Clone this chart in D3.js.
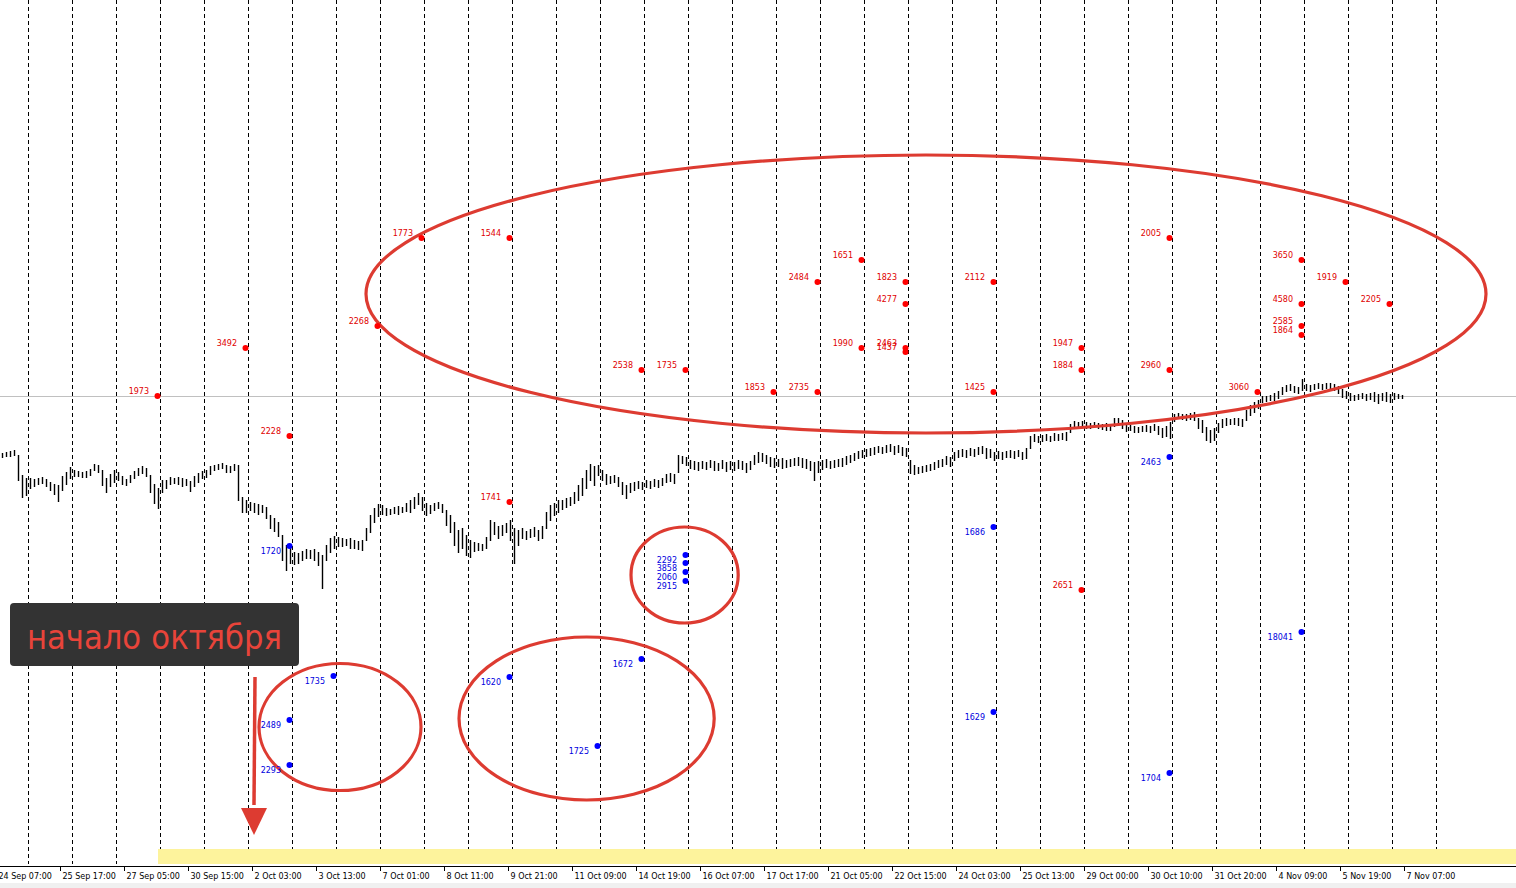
<!DOCTYPE html>
<html>
<head>
<meta charset="utf-8">
<script src="https://cdn.jsdelivr.net/npm/d3@7"></script>
<style>
  body { margin: 0; background: #fff; overflow: hidden; }
  svg { display: block; }
</style>
</head>
<body>
<script>
// price in pips above 1.0000, one entry = 2 hourly bars
var barHigh = [
  1047,1048,1049,1050,1045,1025,1022,1022,1021,1022,
  1023,1021,1018,1016,1015,1024,1028,1033,1030,1029,
  1028,1029,1031,1036,1035,1030,1022,1026,1030,1028,
  1024,1021,1025,1029,1032,1034,1032,1025,1016,1012,
  1020,1020,1023,1022,1023,1022,1021,1019,1024,1027,
  1029,1030,1034,1035,1036,1037,1035,1034,1036,1035,
  1003,1000,998,997,996,995,993,985,982,978,
  965,955,953,948,947,949,951,950,951,948,
  945,955,962,964,963,962,961,962,960,959,
  960,972,985,992,996,995,992,991,993,994,
  993,997,1000,1003,1007,1003,997,995,997,998,
  996,990,985,978,970,972,965,960,958,957,
  956,963,980,978,974,975,977,980,972,970,
  972,969,971,973,970,974,988,995,997,1000,
  1000,1002,1003,1008,1015,1022,1030,1036,1034,1035,
  1030,1026,1024,1025,1023,1018,1015,1017,1018,1019,
  1018,1020,1019,1021,1020,1022,1026,1027,1026,1045,
  1044,1043,1040,1039,1038,1039,1038,1040,1039,1037,
  1040,1038,1039,1038,1040,1039,1037,1039,1045,1048,
  1047,1045,1043,1042,1041,1042,1040,1041,1042,1043,
  1042,1041,1039,1038,1039,1040,1041,1039,1040,1041,
  1042,1044,1045,1047,1049,1050,1051,1052,1053,1054,
  1053,1055,1056,1054,1055,1053,1052,1040,1035,1033,
  1034,1035,1036,1038,1040,1041,1044,1043,1048,1050,
  1051,1050,1052,1051,1053,1054,1052,1051,1048,1049,
  1048,1049,1050,1049,1050,1048,1052,1064,1066,1064,
  1065,1066,1064,1067,1066,1067,1068,1076,1079,1078,
  1079,1078,1077,1078,1077,1076,1077,1076,1082,1082,
  1080,1076,1075,1074,1073,1074,1075,1074,1076,1074,
  1072,1074,1078,1086,1087,1086,1086,1087,1088,1082,
  1080,1073,1070,1072,1077,1081,1082,1081,1082,1082,
  1081,1090,1095,1098,1100,1104,1104,1105,1107,1109,
  1113,1115,1116,1114,1113,1121,1116,1115,1116,1117,
  1116,1117,1117,1116,1114,1111,1109,1107,1105,1106,
  1107,1106,1107,1108,1106,1107,1108,1106,1107,1106,1105
];
var barLow = [
  1043,1044,1044,1045,1020,1003,1005,1012,1014,1016,
  1017,1014,1010,1006,999,1010,1016,1022,1024,1024,
  1023,1023,1025,1030,1028,1015,1008,1014,1018,1020,
  1016,1015,1018,1022,1025,1027,1024,1008,997,992,
  1008,1012,1016,1017,1016,1014,1015,1009,1014,1018,
  1022,1023,1026,1030,1031,1032,1028,1028,1030,1000,
  988,988,990,988,986,988,982,972,969,964,
  940,930,937,936,937,940,942,942,940,935,
  912,940,948,952,954,954,955,952,952,951,
  950,960,968,978,984,986,985,986,987,986,
  988,989,988,992,996,990,985,987,990,992,
  988,975,968,955,948,952,945,943,949,950,
  950,952,960,966,962,965,968,960,937,955,
  962,961,963,964,960,962,972,980,985,988,
  991,993,995,997,1000,1005,1012,1020,1015,1025,
  1020,1016,1017,1018,1014,1006,1002,1008,1010,1012,
  1011,1013,1012,1014,1013,1015,1018,1019,1017,1028,
  1037,1035,1032,1031,1030,1032,1031,1033,1030,1030,
  1032,1029,1031,1030,1032,1031,1028,1031,1036,1038,
  1039,1037,1034,1033,1034,1032,1033,1034,1035,1035,
  1033,1032,1030,1020,1028,1031,1033,1032,1033,1034,
  1034,1036,1038,1040,1042,1043,1044,1045,1046,1048,
  1047,1048,1049,1046,1048,1045,1044,1027,1026,1027,
  1028,1029,1030,1031,1033,1034,1036,1034,1040,1043,
  1044,1043,1045,1044,1046,1047,1042,1043,1040,1042,
  1041,1043,1043,1042,1044,1041,1042,1052,1059,1058,
  1059,1060,1059,1060,1060,1061,1060,1068,1072,1073,
  1073,1072,1072,1073,1072,1071,1070,1070,1074,1075,
  1072,1069,1070,1068,1068,1069,1069,1068,1070,1066,
  1063,1064,1062,1079,1082,1081,1080,1081,1080,1072,
  1068,1060,1058,1060,1068,1073,1075,1076,1076,1075,
  1074,1080,1085,1088,1092,1098,1099,1100,1100,1102,
  1106,1109,1110,1108,1107,1110,1110,1109,1111,1112,
  1111,1112,1111,1110,1107,1103,1102,1100,1100,1101,
  1102,1100,1101,1099,1097,1100,1099,1098,1101,1102,1102
];

var tickLabels = ["24 Sep 07:00", "25 Sep 17:00", "27 Sep 05:00", "30 Sep 15:00", "2 Oct 03:00",
  "3 Oct 13:00", "7 Oct 01:00", "8 Oct 11:00", "9 Oct 21:00", "11 Oct 09:00", "14 Oct 19:00",
  "16 Oct 07:00", "17 Oct 17:00", "21 Oct 05:00", "22 Oct 15:00", "24 Oct 03:00", "25 Oct 13:00",
  "29 Oct 00:00", "30 Oct 10:00", "31 Oct 20:00", "4 Nov 09:00", "5 Nov 19:00", "7 Nov 07:00"];

// volume marks: grid slot, price level (pips), volume
var sellSlot = [3, 5, 6, 8, 9, 11, 11, 14, 15, 17, 18, 18, 19, 19, 20, 20, 20, 20, 22, 22, 24, 24, 24, 26, 26, 28, 29, 29, 29, 29, 30, 31];
var sellLevel = [1104, 1152, 1064, 1174, 1262, 1262, 998, 1130, 1130, 1108, 1108, 1218, 1240, 1152, 1218, 1196, 1152, 1148, 1218, 1108, 1152, 1130, 910, 1262, 1130, 1108, 1240, 1196, 1174, 1165, 1218, 1196];
var sellVol = [1973, 3492, 2228, 2268, 1773, 1544, 1741, 2538, 1735, 1853, 2735, 2484, 1651, 1990, 1823, 4277, 2463, 1437, 2112, 1425, 1947, 1884, 2651, 2005, 2960, 3060, 3650, 4580, 2585, 1864, 1919, 2205];

var buySlot = [6, 6, 6, 7, 11, 13, 14, 15, 15, 15, 15, 22, 26, 22, 26, 29];
var buyLevel = [954, 780, 735, 824, 823, 754, 841, 945, 937, 928, 919, 973, 1043, 788, 727, 868];
var buyVol = [1720, 2489, 2293, 1735, 1620, 1725, 1672, 2292, 3858, 2060, 2915, 1686, 2463, 1629, 1704, 18041];

var bidLevel = 1104;
var highlightFrom = 79; // hour index where the yellow strip starts

var width = 1516,
    height = 888,
    axisY = 866;

var x = d3.scaleLinear().domain([0, 758]).range([0, width]);   // hours
var y = d3.scaleLinear().domain([634, 1500]).range([axisY, 0]); // pips

var slotHour = function(k){ return 14 + 22 * k; };

var svg = d3.select("body").append("svg")
  .attr("width", width)
  .attr("height", height)
  .style("font-family", "'DejaVu Sans', Verdana, sans-serif");

svg.append("rect").attr("y", 883).attr("width", width).attr("height", 5).attr("fill", "#f0f0f0");

// vertical grid
svg.append("g").selectAll("line")
  .data(d3.range(33))
  .enter().append("line")
  .attr("x1", function(k){ return Math.round(x(slotHour(k))) + 0.5; })
  .attr("x2", function(k){ return Math.round(x(slotHour(k))) + 0.5; })
  .attr("y1", 0)
  .attr("y2", axisY - 2)
  .attr("stroke", "#000")
  .attr("stroke-dasharray", "4,3")
  .attr("shape-rendering", "crispEdges");

// bid line
svg.append("line")
  .attr("x1", 0).attr("x2", width)
  .attr("y1", Math.round(y(bidLevel)) + 0.5).attr("y2", Math.round(y(bidLevel)) + 0.5)
  .attr("stroke", "#c0c0c0")
  .attr("shape-rendering", "crispEdges");

svg.append("rect")
  .attr("x", x(highlightFrom))
  .attr("y", 849)
  .attr("width", width - x(highlightFrom))
  .attr("height", 15)
  .attr("fill", "#fdf39c");

// price bars
svg.append("g").selectAll("line")
  .data(barHigh)
  .enter().append("line")
  .attr("x1", function(d, i){ return Math.round(x(2 * i + 1)) + 0.5; })
  .attr("x2", function(d, i){ return Math.round(x(2 * i + 1)) + 0.5; })
  .attr("y1", function(d){ return y(d); })
  .attr("y2", function(d, i){ return y(barLow[i]) + 1; })
  .attr("stroke", "#000")
  .attr("stroke-width", 1.4);

// time axis
svg.append("line")
  .attr("x1", 0).attr("x2", width)
  .attr("y1", axisY + 0.5).attr("y2", axisY + 0.5)
  .attr("stroke", "#000")
  .attr("shape-rendering", "crispEdges");

var ticks = svg.append("g").selectAll("g")
  .data(tickLabels)
  .enter().append("g")
  .attr("transform", function(d, j){ return "translate(" + (Math.round(x(32 * j - 2)) + 0.5) + "," + axisY + ")"; });
ticks.append("line").attr("y1", 0).attr("y2", 5).attr("stroke", "#000").attr("shape-rendering", "crispEdges");
ticks.append("text")
  .attr("x", 2)
  .attr("y", 12.5)
  .attr("font-size", "8px")
  .attr("fill", "#000")
  .text(function(d){ return d; });

// circled zones (hand annotations)
var zoneHour = [463, 342.3, 170, 293.3];
var zoneLevel = [1206, 925, 773, 781.5];
var zoneHalfHours = [280, 26.8, 40.5, 63.8];
var zoneHalfPips = [139, 48, 63.5, 81.5];
var annotRed = "#dd3b31";

svg.append("g").selectAll("ellipse")
  .data(zoneHour)
  .enter().append("ellipse")
  .attr("cx", function(d){ return x(d); })
  .attr("cy", function(d, i){ return y(zoneLevel[i]); })
  .attr("rx", function(d, i){ return x(zoneHalfHours[i]) - x(0); })
  .attr("ry", function(d, i){ return y(0) - y(zoneHalfPips[i]); })
  .attr("fill", "none")
  .attr("stroke", annotRed)
  .attr("stroke-width", 3.2);

// volume dots
var sellG = svg.append("g");
sellG.selectAll("circle")
  .data(sellVol)
  .enter().append("circle")
  .attr("cx", function(d, i){ return x(slotHour(sellSlot[i]) - 1.25); })
  .attr("cy", function(d, i){ return y(sellLevel[i]); })
  .attr("r", 3)
  .attr("fill", "#ff0000");
sellG.selectAll("text")
  .data(sellVol)
  .enter().append("text")
  .attr("x", function(d, i){ return x(slotHour(sellSlot[i]) - 1.25) - 8.5; })
  .attr("y", function(d, i){ return y(sellLevel[i]) - 2; })
  .attr("text-anchor", "end")
  .attr("font-size", "8px")
  .attr("fill", "#e00000")
  .text(function(d){ return d; });

var buyG = svg.append("g");
buyG.selectAll("circle")
  .data(buyVol)
  .enter().append("circle")
  .attr("cx", function(d, i){ return x(slotHour(buySlot[i]) - 1.25); })
  .attr("cy", function(d, i){ return y(buyLevel[i]); })
  .attr("r", 3)
  .attr("fill", "#0000ff");
buyG.selectAll("text")
  .data(buyVol)
  .enter().append("text")
  .attr("x", function(d, i){ return x(slotHour(buySlot[i]) - 1.25) - 8.5; })
  .attr("y", function(d, i){ return y(buyLevel[i]) + 8; })
  .attr("text-anchor", "end")
  .attr("font-size", "8px")
  .attr("fill", "#0000e0")
  .text(function(d){ return d; });

// callout + arrow
var callout = svg.append("g");
callout.append("rect")
  .attr("x", x(5)).attr("y", y(897))
  .attr("width", x(149.5) - x(5)).attr("height", y(834) - y(897))
  .attr("rx", 4)
  .attr("fill", "#333333");
callout.append("text")
  .attr("x", x(77.2)).attr("y", y(851))
  .attr("text-anchor", "middle")
  .attr("font-family", "'Comic Sans MS', 'Comic Neue', 'DejaVu Sans', sans-serif")
  .attr("font-size", "34px")
  .attr("textLength", 255)
  .attr("lengthAdjust", "spacingAndGlyphs")
  .attr("fill", "#e8443a")
  .text("начало октября");

var arrowHour = 127, arrowFrom = 823, arrowTo = 665;
callout.append("line")
  .attr("x1", x(arrowHour) + 1).attr("x2", x(arrowHour))
  .attr("y1", y(arrowFrom)).attr("y2", y(arrowTo + 30))
  .attr("stroke", annotRed)
  .attr("stroke-width", 3.5);
callout.append("path")
  .attr("d", "M" + (x(arrowHour) - 13) + "," + y(arrowTo + 27) +
             "L" + (x(arrowHour) + 13) + "," + y(arrowTo + 27) +
             "L" + x(arrowHour) + "," + y(arrowTo) + "Z")
  .attr("fill", annotRed);
</script>
</body>
</html>
